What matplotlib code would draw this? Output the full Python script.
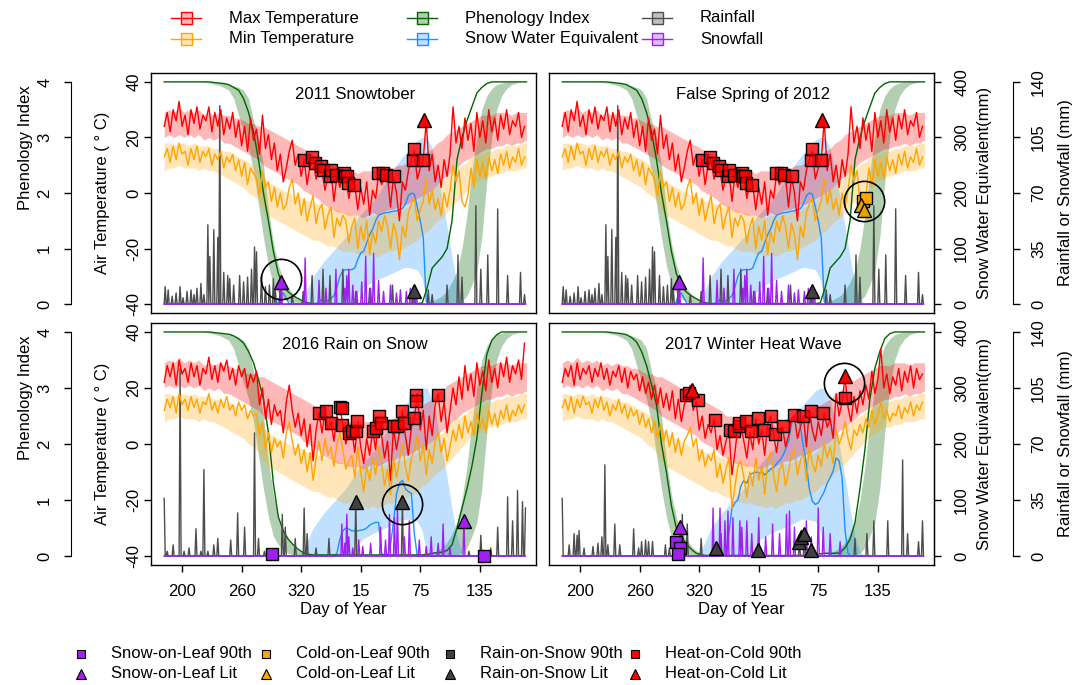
import numpy as np
import matplotlib
matplotlib.use("Agg")
import matplotlib.pyplot as plt
from matplotlib.lines import Line2D
from matplotlib.patches import Rectangle

plt.rcParams['font.family'] = ['Liberation Sans', 'DejaVu Sans']
plt.rcParams['font.size'] = 12
plt.rcParams['axes.unicode_minus'] = False

# day grids: day of year counted on past Dec 31 (366 = Jan 1 of second year)
DAY1 = np.arange(182, 547)
DAY3 = np.arange(182, 547, 3)
DAY5 = np.arange(182, 548, 5)

# ---------------- climatology bands (5-day steps) ----------------
TMAX_LO = [20, 21, 20, 21, 20, 21, 20, 21, 19, 20,
           19, 20, 18, 18, 17, 16, 15, 14, 13, 12,
           10, 9, 8, 7, 6, 5, 4, 3, 1, 0,
           -1, -2, -4, -5, -6, -7, -7, -8, -8, -8,
           -9, -8, -7, -8, -7, -6, -6, -5, -4, -4,
           -3, -2, -1, 0, 1, 3, 5, 6, 8, 9,
           11, 12, 13, 14, 15, 16, 16, 17, 17, 18,
           17, 18, 18, 19]
TMAX_HI = [29, 30, 29, 31, 29, 30, 29, 30, 28, 29,
           28, 29, 28, 28, 27, 27, 26, 25, 25, 24,
           24, 23, 22, 21, 20, 19, 18, 17, 16, 15,
           14, 13, 12, 10, 10, 9, 8, 8, 8, 7,
           8, 8, 8, 9, 8, 9, 9, 10, 10, 11,
           12, 13, 14, 15, 16, 18, 19, 21, 22, 23,
           24, 25, 26, 27, 28, 28, 28, 29, 29, 29,
           28, 29, 29, 29]
TMIN_LO = [8, 9, 9, 10, 9, 9, 9, 8, 9, 8,
           8, 7, 6, 5, 4, 3, 2, 0, -1, -3,
           -6, -8, -9, -10, -11, -12, -13, -14, -15, -16,
           -17, -17, -18, -19, -19, -20, -21, -21, -21, -22,
           -22, -23, -22, -23, -22, -21, -21, -20, -20, -19,
           -18, -17, -15, -14, -12, -10, -9, -7, -5, -3,
           -1, 1, 3, 4, 5, 6, 6, 7, 7, 8,
           8, 8, 9, 9]
TMIN_HI = [18, 18, 17, 18, 18, 17, 18, 17, 17, 17,
           16, 16, 15, 15, 14, 13, 12, 11, 10, 8,
           6, 4, 3, 2, 1, 0, -1, -1, -2, -3,
           -3, -4, -5, -5, -6, -6, -7, -7, -8, -8,
           -8, -9, -8, -8, -8, -7, -7, -6, -6, -5,
           -4, -3, -1, 0, 1, 3, 4, 6, 8, 9,
           10, 11, 13, 14, 14, 15, 15, 16, 16, 17,
           17, 17, 18, 18]
PHENO_HI = [4.0, 4.0, 4.0, 4.0, 4.0, 4.0, 4.0, 4.0, 4.0, 4.0,
            3.99, 3.98, 3.97, 3.95, 3.93, 3.9, 3.85, 3.7, 3.3, 3.0,
            2.5, 1.7, 1.1, 0.7, 0.45, 0.3, 0.18, 0.1, 0.05, 0.02,
            0, 0, 0, 0, 0, 0, 0, 0, 0, 0,
            0, 0, 0, 0, 0, 0, 0, 0, 0, 0,
            0, 0, 0, 0.02, 0.05, 0.1, 0.15, 0.25, 0.4, 0.6,
            1.0, 1.6, 2.4, 3.0, 3.5, 3.75, 3.88, 3.95, 3.98, 4.0,
            4.0, 4.0, 4.0, 4.0]
PHENO_LO = [4.0, 4.0, 4.0, 4.0, 4.0, 4.0, 4.0, 4.0, 3.99, 3.98,
            3.96, 3.94, 3.9, 3.85, 3.7, 3.4, 3.1, 2.8, 2.4, 1.8,
            1.2, 0.7, 0.35, 0.2, 0.1, 0.05, 0.02, 0, 0, 0,
            0, 0, 0, 0, 0, 0, 0, 0, 0, 0,
            0, 0, 0, 0, 0, 0, 0, 0, 0, 0,
            0, 0, 0, 0, 0, 0, 0, 0, 0, 0.02,
            0.05, 0.15, 0.35, 0.6, 1.2, 2.2, 3.0, 3.5, 3.75, 3.88,
            3.95, 3.98, 4.0, 4.0]
SWE_HI = [0, 0, 0, 0, 0, 0, 0, 0, 0, 0,
          0, 0, 0, 0, 0, 0, 0, 0, 0, 0,
          0, 0, 0, 0, 0, 0, 0, 0, 10, 30,
          50, 62, 75, 85, 95, 105, 115, 125, 140, 155,
          165, 175, 185, 195, 210, 225, 240, 252, 265, 275,
          285, 295, 300, 300, 280, 240, 190, 140, 85, 35,
          8, 0, 0, 0, 0, 0, 0, 0, 0, 0,
          0, 0, 0, 0]
SWE_LO = [0, 0, 0, 0, 0, 0, 0, 0, 0, 0,
          0, 0, 0, 0, 0, 0, 0, 0, 0, 0,
          0, 0, 0, 0, 0, 0, 0, 0, 0, 0,
          0, 0, 0, 0, 0, 0, 0, 0, 0, 20,
          30, 35, 40, 45, 48, 52, 56, 60, 65, 66,
          64, 62, 45, 0, 0, 0, 0, 0, 0, 0,
          0, 0, 0, 0, 0, 0, 0, 0, 0, 0,
          0, 0, 0, 0]

# ---------------- 2011-2012 season (3-day steps for temp / SWE, 5-day for phenology) ----------------
TMAX_2012 = [24, 29, 22, 30, 26, 33, 24, 28, 21, 30,
             25, 31, 23, 28, 26, 31, 22, 29, 24, 30,
             21, 27, 23, 29, 20, 26, 17, 24, 15, 27,
             19, 23, 14, 28, 16, 21, 12, 18, 8, 14,
             4, 9, 15, 19, 10, 14, 6, 12, 3, 10,
             12, 5, 9, 8, 1, 6, 8, -3, 6, 2,
             7, 6, -2, 4, 3, -6, 2, -4, 4, -8,
             1, -2, 7, 3, 7, 6, -5, 6, 0, -10,
             4, 1, 8, 12, 15, 5, 9, 12, 26, 8,
             14, 4, 10, 2, 12, 6, 14, 31, 18, 24,
             16, 27, 19, 25, 15, 29, 20, 26, 18, 30,
             22, 27, 19, 28, 23, 30, 21, 26, 24, 29,
             20, 24]
TMIN_2012 = [13, 16, 11, 17, 12, 18, 14, 15, 10, 16,
             12, 17, 11, 15, 13, 16, 10, 14, 12, 15,
             9, 13, 11, 14, 8, 12, 6, 11, 3, 9,
             7, 5, -1, 8, 2, 4, -3, 2, -5, 0,
             -6, -4, 2, 5, -4, 0, -8, -2, -10, -5,
             -1, -11, -6, -4, -13, -8, -5, -16, -9, -12,
             -8, -10, -18, -12, -9, -20, -12, -17, -10, -22,
             -14, -18, -10, -14, -8, -12, -20, -11, -15, -24,
             -12, -16, -7, -4, -2, -10, -6, -3, 5, -4,
             1, -6, -2, -8, 0, -5, 1, 10, 4, 8,
             -3, -5, -1, 9, 2, 12, 6, 11, 5, 13,
             8, 12, 7, 14, 10, 15, 9, 13, 11, 16,
             10, 13]
PHENO_2012 = [4.0, 4.0, 4.0, 4.0, 4.0, 4.0, 4.0, 4.0, 4.0, 4.0,
              3.99, 3.98, 3.97, 3.95, 3.9, 3.85, 3.7, 3.45, 3.1, 2.6,
              2.0, 1.5, 0.95, 0.55, 0.32, 0.22, 0.15, 0.1, 0.05, 0.02,
              0.01, 0.01, 0.01, 0.01, 0.01, 0.01, 0.01, 0.01, 0.01, 0.01,
              0.01, 0.01, 0.01, 0.01, 0.01, 0.01, 0.01, 0.01, 0.01, 0.01,
              0.01, 0.01, 0.02, 0.3, 0.65, 0.75, 0.85, 1.0, 1.5, 2.6,
              3.0, 3.3, 3.55, 3.8, 3.9, 3.97, 4.0, 4.0, 4.0, 4.0,
              4.0, 4.0, 4.0, 4.0]
SWE_2012 = [0, 0, 0, 0, 0, 0, 0, 0, 0, 0,
            0, 0, 0, 0, 0, 0, 0, 0, 0, 0,
            0, 0, 0, 0, 0, 0, 0, 0, 0, 0,
            0, 0, 0, 0, 0, 0, 0, 0, 0, 15,
            20, 10, 0, 0, 0, 0, 0, 0, 0, 0,
            0, 0, 5, 8, 4, 6, 10, 15, 30, 50,
            60, 62, 62, 62, 65, 80, 92, 95, 110, 125,
            135, 150, 160, 162, 164, 165, 166, 167, 168, 170,
            172, 180, 195, 200, 198, 175, 150, 120, 5, 0,
            0, 0, 0, 0, 0, 0, 0, 0, 0, 0,
            0, 0, 0, 0, 0, 0, 0, 0, 0, 0,
            0, 0, 0, 0, 0, 0, 0, 0, 0, 0,
            0, 0]
RAIN_2012_DAY = [183, 186, 190, 194, 198, 201, 205, 209, 212, 215,
                 219, 222, 226, 228, 232, 236, 238, 242, 246, 248,
                 252, 258, 262, 266, 270, 273, 275, 280, 284, 288,
                 292, 294, 299, 311, 322, 331, 342, 349, 362, 375,
                 389, 412, 433, 448, 452, 467, 478, 482, 496, 501,
                 508, 518, 528, 541, 545]
RAIN_2012_MM = [11, 9, 5, 7, 11, 4, 8, 9, 6, 10,
                13, 6, 50, 30, 47, 42, 125, 20, 18, 16,
                12, 18, 14, 17, 22, 36, 33, 18, 11, 12,
                16, 9, 14, 6, 8, 18, 22, 18, 22, 8,
                10, 12, 8, 9, 6, 12, 31, 17, 62, 22,
                31, 60, 18, 20, 6]
SNOW_2012_DAY = [300, 324, 338, 345, 355, 364, 366, 368, 372, 376,
                 381, 385, 390, 393, 398, 403, 410, 416, 420, 426,
                 430, 434, 436]
SNOW_2012_MM = [14, 29, 15, 10, 22, 10, 18, 22, 12, 8,
                14, 30, 10, 32, 15, 8, 12, 7, 9, 8,
                10, 6, 8]

# ---------------- 2015-2016 season ----------------
TMAX_2016 = [22, 28, 24, 29, 21, 30, 25, 27, 22, 29,
             24, 28, 21, 27, 25, 31, 23, 28, 22, 29,
             26, 30, 23, 27, 21, 28, 24, 27, 20, 25,
             22, 26, 14, 20, 9, 16, 7, 14, 10, 12,
             4, 15, 21, 12, 6, 11, 3, 9, -1, 7,
             -6, 5, 11, 4, 12, 5, 8, 1, 10, 13,
             7, 0, 4, 5, -3, 8, -1, -7, 2, -4,
             5, -2, 10, 3, -5, 1, -13, 6, -2, 4,
             12, 3, -4, 6, 9, 18, 5, 12, -2, 10,
             3, 14, 18, 8, 15, 4, 12, 20, 14, 24,
             16, 28, 19, 25, 17, 29, 21, 26, 19, 30,
             22, 27, 20, 29, 24, 31, 22, 28, 25, 30,
             23, 36]
TMIN_2016 = [12, 16, 13, 17, 11, 18, 14, 16, 12, 17,
             13, 16, 11, 15, 14, 18, 12, 15, 11, 16,
             13, 17, 12, 14, 10, 15, 12, 14, 9, 12,
             10, 11, 3, 8, -2, 4, -3, 2, -1, 1,
             -5, 4, 8, 1, -4, 0, -7, -2, -10, -3,
             -13, -5, 1, -6, 2, -4, -1, -8, 0, 4,
             -2, -9, -6, -4, -12, -1, -10, -17, -8, -13,
             -5, -11, -1, -7, -15, -9, -18, -5, -12, -6,
             0, -8, -13, -5, -2, 3, -6, 0, -11, -2,
             -7, 1, 4, -3, 2, -6, -1, 5, 1, 7,
             2, 10, 4, 8, 3, 11, 6, 9, 4, 12,
             7, 11, 6, 12, 9, 14, 8, 12, 10, 14,
             11, 14]
PHENO_2016 = [4.0, 4.0, 4.0, 4.0, 4.0, 4.0, 4.0, 4.0, 4.0, 4.0,
              3.99, 3.98, 3.97, 3.96, 3.93, 3.88, 3.8, 3.65, 3.45, 3.15,
              2.8, 2.2, 1.3, 0.7, 0.45, 0.3, 0.2, 0.12, 0.06, 0.03,
              0.02, 0.02, 0.02, 0.02, 0.02, 0.02, 0.02, 0.02, 0.02, 0.02,
              0.02, 0.02, 0.02, 0.02, 0.02, 0.02, 0.02, 0.02, 0.02, 0.02,
              0.02, 0.02, 0.02, 0.03, 0.05, 0.06, 0.07, 0.1, 0.2, 0.5,
              0.85, 1.2, 1.6, 2.1, 2.9, 3.6, 3.85, 3.95, 4.0, 4.0,
              4.0, 4.0, 4.0, 4.0]
SWE_2016 = [0, 0, 0, 0, 0, 0, 0, 0, 0, 0,
            0, 0, 0, 0, 0, 0, 0, 0, 0, 0,
            0, 0, 0, 0, 0, 0, 0, 0, 0, 0,
            0, 0, 0, 0, 0, 0, 0, 0, 0, 0,
            0, 0, 0, 0, 0, 0, 0, 0, 0, 0,
            0, 0, 0, 0, 0, 0, 0, 0, 5, 30,
            45, 50, 48, 45, 45, 45, 46, 47, 50, 55,
            58, 60, 60, 5, 0, 0, 20, 60, 110, 130,
            135, 120, 115, 112, 40, 0, 0, 0, 0, 0,
            0, 0, 0, 0, 0, 0, 0, 0, 0, 0,
            0, 0, 0, 0, 0, 0, 0, 0, 0, 0,
            0, 0, 0, 0, 0, 0, 0, 0, 0, 0,
            0, 0]
RAIN_2016_DAY = [182, 185, 191, 198, 202, 207, 214, 219, 222, 226,
                 232, 236, 249, 256, 263, 273, 277, 283, 301, 304,
                 314, 323, 326, 335, 348, 375, 422, 489, 501, 511,
                 518, 528, 533, 538, 543, 546]
RAIN_2016_MM = [36, 3, 7, 117, 3, 5, 17, 3, 54, 3,
                7, 11, 10, 27, 18, 77, 11, 3, 26, 18,
                11, 30, 14, 5, 11, 34, 34, 3, 13, 5,
                18, 37, 22, 41, 34, 30]
SNOW_2016_DAY = [361, 364, 366, 368, 372, 378, 382, 390, 400, 405,
                 409, 414, 417, 424, 429, 439, 446, 451, 458, 463,
                 470, 484]
SNOW_2016_MM = [20, 8, 26, 12, 5, 10, 6, 8, 18, 10,
                26, 24, 30, 12, 22, 10, 6, 12, 8, 20,
                5, 22]

# ---------------- 2016-2017 season ----------------
TMAX_2017 = [22, 27, 24, 28, 21, 29, 23, 27, 25, 28,
             22, 27, 24, 29, 23, 27, 21, 26, 24, 28,
             22, 27, 20, 26, 23, 25, 19, 24, 18, 22,
             16, 21, 14, 20, 13, 18, 12, 19, 9, 16,
             8, 14, 17, 21, 12, 15, 5, 10, 2, 7,
             4, 9, -2, 3, -4, 1, 5, -11, -3, 6,
             7, 1, -5, 4, -2, 9, 0, 5, -4, 7,
             10, 3, -3, 5, 6, -1, 3, 9, 10, 2,
             6, 10, -1, 12, 5, 1, 8, 3, 11, 6,
             9, 2, 18, 10, 15, 24, 13, 8, 17, 11,
             19, 14, 21, 16, 26, 18, 23, 34, 20, 25,
             18, 24, 21, 27, 19, 26, 22, 28, 20, 27,
             23, 25]
TMIN_2017 = [13, 16, 12, 17, 11, 16, 13, 17, 14, 15,
             11, 16, 13, 17, 12, 15, 10, 14, 12, 16,
             11, 14, 9, 13, 10, 12, 7, 11, 6, 9,
             4, 8, 2, 7, 1, 5, -1, 4, -3, 2,
             -4, 1, 3, 6, -1, 2, -6, -2, -8, -4,
             -6, -2, -12, -7, -14, -9, -5, -23, -15, -8,
             -6, -12, -19, -10, -15, -5, -13, -8, -18, -6,
             -3, -11, -17, -9, -7, -15, -10, -4, -2, -11,
             -6, -3, -13, -1, -7, -10, -4, -8, 0, -5,
             -1, -7, 5, 0, 3, 8, 2, -2, 5, 3,
             7, 4, 9, 6, 12, 7, 10, 15, 9, 12,
             8, 11, 10, 14, 9, 13, 11, 15, 10, 14,
             12, 15]
PHENO_2017 = [4.0, 4.0, 4.0, 4.0, 4.0, 4.0, 4.0, 4.0, 4.0, 4.0,
              3.99, 3.98, 3.97, 3.95, 3.9, 3.82, 3.65, 3.4, 3.05, 2.7,
              2.0, 1.5, 0.9, 0.5, 0.35, 0.22, 0.12, 0.05, 0.02, 0.01,
              0.01, 0.01, 0.01, 0.01, 0.01, 0.01, 0.01, 0.01, 0.01, 0.01,
              0.01, 0.01, 0.01, 0.01, 0.01, 0.01, 0.01, 0.01, 0.01, 0.01,
              0.02, 0.03, 0.04, 0.05, 0.05, 0.05, 0.06, 0.15, 0.3, 0.6,
              1.2, 1.9, 2.8, 3.35, 3.65, 3.88, 3.97, 4.0, 4.0, 4.0,
              4.0, 4.0, 4.0, 4.0]
SWE_2017 = [0, 0, 0, 0, 0, 0, 0, 0, 0, 0,
            0, 0, 0, 0, 0, 0, 0, 0, 0, 0,
            0, 0, 0, 0, 0, 0, 0, 0, 0, 0,
            0, 0, 0, 0, 0, 0, 0, 0, 0, 0,
            0, 0, 0, 0, 0, 0, 0, 0, 0, 0,
            0, 0, 0, 0, 0, 0, 40, 85, 95, 100,
            125, 135, 130, 145, 148, 150, 148, 150, 145, 150,
            155, 158, 165, 170, 178, 190, 205, 235, 250, 258,
            230, 195, 164, 120, 98, 92, 95, 105, 115, 130,
            140, 152, 175, 170, 140, 45, 5, 0, 0, 0,
            0, 0, 0, 0, 0, 0, 0, 0, 0, 0,
            0, 0, 0, 0, 0, 0, 0, 0, 0, 0,
            0, 0]
RAIN_2017_DAY = [182, 189, 194, 197, 199, 204, 213, 218, 222, 225,
                 228, 235, 240, 254, 259, 262, 266, 269, 273, 286,
                 290, 295, 303, 308, 322, 337, 342, 379, 421, 426,
                 433, 477, 489, 496, 510, 525, 530, 541, 545]
RAIN_2017_MM = [36, 7, 14, 13, 16, 5, 6, 8, 12, 57,
                7, 20, 7, 17, 5, 9, 10, 9, 9, 7,
                5, 11, 26, 20, 11, 5, 14, 5, 10, 15,
                5, 11, 14, 22, 22, 60, 14, 9, 22]
SNOW_2017_DAY = [298, 301, 334, 341, 346, 349, 354, 361, 363, 368,
                 373, 380, 387, 394, 401, 408, 411, 416, 428, 433,
                 440, 445, 452, 462]
SNOW_2017_MM = [9, 18, 30, 30, 22, 28, 24, 22, 18, 22,
                14, 24, 12, 20, 14, 26, 28, 18, 22, 12,
                30, 18, 14, 9]

# ---------------- extreme-event markers ----------------
HOC90_2012_DAY = [323, 331, 334, 340, 342, 349, 350, 355, 363, 364,
                  366, 367, 373, 397, 402, 405, 414, 433, 434, 443]
HOC90_2012_T = [11.9, 12.9, 10.7, 9.6, 8.4, 6.0, 8.4, 6.6, 7.2, 6.0,
                6.0, 3.6, 3.0, 7.2, 7.2, 6.6, 6.0, 11.9, 15.8, 11.9]
HOCLIT_2012_DAY, HOCLIT_2012_T = [444], [26.3]
SOLLIT_2012_DAY, SOLLIT_2012_MM = [300], [14]
ROSLIT_2012_DAY, ROSLIT_2012_MM = [434], [8]
COL90_2012_DAY, COL90_2012_T = [485, 488], [-3.0, -1.8]
COLLIT_2012_DAY, COLLIT_2012_T = [483, 486], [-4.2, -6.0]

HOC90_2016_DAY = [338, 345, 350, 359, 361, 361, 368, 371, 375, 376,
                  392, 395, 398, 400, 414, 417, 422, 424, 434, 436,
                  436, 458]
HOC90_2016_T = [11.1, 11.7, 7.5, 13.1, 6.9, 12.9, 4.0, 4.6, 4.6, 8.1,
                4.6, 5.7, 9.9, 7.5, 6.3, 6.3, 11.7, 7.5, 9.3, 17.6,
                15.2, 17.6]
ROSLIT_2016_DAY, ROSLIT_2016_MM = [375, 422], [34, 34]
SOLLIT_2016_DAY, SOLLIT_2016_MM = [484], [22]
SOL90_2016_DAY, SOL90_2016_MM = [291, 504], [1, 0]

HOC90_2017_DAY = [307, 310, 319, 336, 351, 355, 360, 360, 367, 372,
                  379, 385, 392, 396, 404, 416, 425, 433, 445, 467]
HOC90_2017_T = [17.6, 18.2, 15.8, 8.7, 5.1, 4.5, 6.3, 7.5, 8.1, 4.5,
                9.3, 5.1, 9.9, 3.4, 6.3, 10.5, 9.9, 11.7, 11.1, 16.4]
HOCLIT_2017_DAY, HOCLIT_2017_T = [313, 467], [19.4, 24.1]
SOL90_2017_DAY, SOL90_2017_MM = [297, 301, 299], [9, 5, 1]
SOLLIT_2017_DAY, SOLLIT_2017_MM = [301], [18]
ROSLIT_2017_DAY = [337, 379, 421, 423, 426, 433]
ROSLIT_2017_MM = [5, 4, 9, 12, 14, 4]

XTICKS = [200, 260, 320, 380, 440, 500]
XTICK_LABELS = ['200', '260', '320', '15', '75', '135']

# ---------------- colours ----------------
C_TMAX, C_TMIN = '#FF0000', '#FFA500'
C_PHENO, C_SWE = '#006400', '#1E90FF'
C_RAIN, C_SNOW = '#4D4D4D', '#A020F0'
F_TMAX = (1.0, 0.0, 0.0, 0.28)
F_TMIN = (1.0, 0.647, 0.0, 0.28)
F_PHENO = (0.0, 0.39, 0.0, 0.30)
F_SWE = (0.118, 0.565, 1.0, 0.28)
F_RAIN = (0.3, 0.3, 0.3, 0.35)
F_SNOW = (0.627, 0.125, 0.941, 0.3)

W, H = 1086, 685
fig = plt.figure(figsize=(W / 100, H / 100), dpi=100)


def rect(l, t, r, b):
    return [l / W, 1 - b / H, (r - l) / W, (b - t) / H]


def daily(days, mm):
    out = np.zeros(len(DAY1))
    out[np.array(days) - 182] = mm
    return out


SEASONS = {
    '2012': dict(tmax=TMAX_2012, tmin=TMIN_2012, pheno=PHENO_2012, swe=SWE_2012,
                 rain=(RAIN_2012_DAY, RAIN_2012_MM), snow=(SNOW_2012_DAY, SNOW_2012_MM)),
    '2016': dict(tmax=TMAX_2016, tmin=TMIN_2016, pheno=PHENO_2016, swe=SWE_2016,
                 rain=(RAIN_2016_DAY, RAIN_2016_MM), snow=(SNOW_2016_DAY, SNOW_2016_MM)),
    '2017': dict(tmax=TMAX_2017, tmin=TMIN_2017, pheno=PHENO_2017, swe=SWE_2017,
                 rain=(RAIN_2017_DAY, RAIN_2017_MM), snow=(SNOW_2017_DAY, SNOW_2017_MM)),
}

STYLE = {
    'hoc90': dict(marker='s', ms=8.5, mfc=(1, 0, 0, 0.8), on='t'),
    'hoclit': dict(marker='^', ms=10, mfc='#FF0000', on='t'),
    'col90': dict(marker='s', ms=8.5, mfc='#FFA500', on='t'),
    'collit': dict(marker='^', ms=10, mfc='#E8A200', on='t'),
    'sol90': dict(marker='s', ms=8.5, mfc='#A020F0', on='r'),
    'sollit': dict(marker='^', ms=10, mfc='#A020F0', on='r'),
    'roslit': dict(marker='^', ms=10, mfc='#404040', on='r'),
}

PANELS = [
    dict(box=(151, 73, 536, 313), title='2011 Snowtober', season='2012', side='left', bottom=False,
         marks=[('hoc90', HOC90_2012_DAY, HOC90_2012_T), ('hoclit', HOCLIT_2012_DAY, HOCLIT_2012_T),
                ('sollit', SOLLIT_2012_DAY, SOLLIT_2012_MM), ('roslit', ROSLIT_2012_DAY, ROSLIT_2012_MM)],
         circle=(300, -31)),
    dict(box=(549, 73, 934, 313), title='False Spring of 2012', season='2012', side='right', bottom=False,
         marks=[('hoc90', HOC90_2012_DAY, HOC90_2012_T), ('hoclit', HOCLIT_2012_DAY, HOCLIT_2012_T),
                ('sollit', SOLLIT_2012_DAY, SOLLIT_2012_MM), ('roslit', ROSLIT_2012_DAY, ROSLIT_2012_MM),
                ('col90', COL90_2012_DAY, COL90_2012_T), ('collit', COLLIT_2012_DAY, COLLIT_2012_T)],
         circle=(486, -3)),
    dict(box=(151, 323, 536, 565), title='2016 Rain on Snow', season='2016', side='left', bottom=True,
         marks=[('hoc90', HOC90_2016_DAY, HOC90_2016_T), ('roslit', ROSLIT_2016_DAY, ROSLIT_2016_MM),
                ('sollit', SOLLIT_2016_DAY, SOLLIT_2016_MM), ('sol90', SOL90_2016_DAY, SOL90_2016_MM)],
         circle=(422, -21.5)),
    dict(box=(549, 323, 934, 565), title='2017 Winter Heat Wave', season='2017', side='right', bottom=True,
         marks=[('hoc90', HOC90_2017_DAY, HOC90_2017_T), ('hoclit', HOCLIT_2017_DAY, HOCLIT_2017_T),
                ('sol90', SOL90_2017_DAY, SOL90_2017_MM), ('sollit', SOLLIT_2017_DAY, SOLLIT_2017_MM),
                ('roslit', ROSLIT_2017_DAY, ROSLIT_2017_MM)],
         circle=(466, 21.8)),
]


def rot_labels(axis_obj):
    plt.setp(axis_obj.get_yticklabels(), rotation=90, va='center')


for p in PANELS:
    s = SEASONS[p['season']]
    ax = fig.add_axes(rect(*p['box']))
    ax_ph = ax.twinx()
    ax_sw = ax.twinx()
    ax_rn = ax.twinx()
    ax_ph.set_ylim(-0.16, 4.16)
    ax_sw.set_ylim(-16, 416)
    ax_rn.set_ylim(-5.6, 145.6)
    tp, ts, tr = ax_ph.transData, ax_sw.transData, ax_rn.transData

    # climatology envelopes
    ax.fill_between(DAY5, PHENO_LO, PHENO_HI, color=F_PHENO, lw=0, transform=tp, zorder=1)
    ax.fill_between(DAY5, SWE_LO, SWE_HI, color=F_SWE, lw=0, transform=ts, zorder=1)
    ax.fill_between(DAY5, TMAX_LO, TMAX_HI, color=F_TMAX, lw=0, zorder=1)
    ax.fill_between(DAY5, TMIN_LO, TMIN_HI, color=F_TMIN, lw=0, zorder=1)

    # snowpack and phenology
    ax.plot(DAY3, s['swe'], color=C_SWE, lw=1, transform=ts, zorder=2)
    ax.plot(DAY5, s['pheno'], color=C_PHENO, lw=1, transform=tp, zorder=2)
    # precipitation (snowfall on top, so the zero baseline reads purple)
    ax.plot(DAY1, daily(*s['rain']), color=C_RAIN, lw=1, transform=tr, zorder=3)
    ax.plot(DAY1, daily(*s['snow']), color=C_SNOW, lw=1, transform=tr, zorder=3.1)
    # temperatures
    ax.plot(DAY3, s['tmax'], color=C_TMAX, lw=1, zorder=4)
    ax.plot(DAY3, s['tmin'], color=C_TMIN, lw=1, zorder=4)

    for kind, d, v in p['marks']:
        st = STYLE[kind]
        trf = ax.transData if st['on'] == 't' else tr
        ax.plot(d, v, ls='none', marker=st['marker'], ms=st['ms'], mfc=st['mfc'],
                mec='black', mew=1, transform=trf, zorder=6)
    cx, cy = p['circle']
    ax.plot([cx], [cy], ls='none', marker='o', ms=29, mfc='none', mec='black', mew=1.2, zorder=7)

    ax.set_xlim(168.7, 556.6)
    ax.set_ylim(-43.2, 43.2)
    ax_ph.set_ylim(-0.16, 4.16)
    ax_sw.set_ylim(-16, 416)
    ax_rn.set_ylim(-5.6, 145.6)

    ax.text(0.53, 0.912, p['title'], transform=ax.transAxes, ha='center', va='center', fontsize=12)
    for sp in ax.spines.values():
        sp.set_linewidth(1)

    if p['bottom']:
        ax.set_xticks(XTICKS)
        ax.set_xticklabels(XTICK_LABELS)
        ax.tick_params(axis='x', direction='out', length=5, width=1, pad=8.5)
        ax.set_xlabel('Day of Year', labelpad=2)
    else:
        ax.tick_params(axis='x', bottom=False, labelbottom=False)

    if p['side'] == 'left':
        ax.set_yticks([-40, -20, 0, 20, 40])
        ax.tick_params(axis='y', direction='out', length=5, width=1, pad=2)
        rot_labels(ax)
        ax.set_ylabel('Air Temperature ( ° C)')
        ax.yaxis.set_label_coords(-0.106, 0.5)

        ax_ph.yaxis.tick_left()
        ax_ph.yaxis.set_label_position('left')
        for k in ['right', 'top', 'bottom']:
            ax_ph.spines[k].set_visible(False)
        ax_ph.spines['left'].set_position(('outward', 57.6))
        ax_ph.spines['left'].set_bounds(0, 4)
        ax_ph.set_yticks([0, 1, 2, 3, 4])
        ax_ph.tick_params(axis='y', direction='out', length=5, width=1, pad=8.5)
        rot_labels(ax_ph)
        ax_ph.set_ylabel('Phenology Index')
        ax_ph.yaxis.set_label_coords(-0.306, 0.69)
        ax_sw.set_axis_off()
        ax_rn.set_axis_off()
    else:
        ax.tick_params(axis='y', left=False, labelleft=False)
        ax_ph.set_axis_off()
        for k in ['left', 'top', 'bottom']:
            ax_sw.spines[k].set_visible(False)
            ax_rn.spines[k].set_visible(False)
        ax_sw.set_yticks([0, 100, 200, 300, 400])
        ax_sw.tick_params(axis='y', direction='out', length=5, width=1, pad=9.5)
        rot_labels(ax_sw)
        ax_sw.set_ylabel('Snow Water Equivalent(mm)')
        ax_sw.yaxis.set_label_coords(1.112, 0.5)

        ax_rn.spines['right'].set_position(('outward', 56.9))
        ax_rn.spines['right'].set_bounds(0, 140)
        ax_rn.set_yticks([0, 35, 70, 105, 140])
        ax_rn.tick_params(axis='y', direction='out', length=5, width=1, pad=8)
        rot_labels(ax_rn)
        ax_rn.set_ylabel('Rainfall or Snowfall (mm)')
        ax_rn.yaxis.set_label_coords(1.322, 0.5)


# ---------------- legends (figure level) ----------------
def fx(px):
    return px / W


def fy(py):
    return 1 - py / H


TOP_LEGEND = [
    ('Max Temperature', C_TMAX, F_TMAX), ('Min Temperature', C_TMIN, F_TMIN),
    ('Phenology Index', C_PHENO, F_PHENO), ('Snow Water Equivalent', C_SWE, F_SWE),
    ('Rainfall', C_RAIN, F_RAIN), ('Snowfall', C_SNOW, F_SNOW),
]
top_cols = [186, 422, 657]
top_rows = [18, 39]
for i, (lab, c, f) in enumerate(TOP_LEGEND):
    cx, cy = top_cols[i // 2], top_rows[i % 2]
    fig.add_artist(Rectangle((fx(cx - 5.5), fy(cy + 5.5)), 11 / W, 11 / H, facecolor=f,
                             edgecolor=c, lw=1, transform=fig.transFigure))
    fig.add_artist(Line2D([fx(cx - 15), fx(cx + 15)], [fy(cy), fy(cy)], color=c, lw=1,
                          transform=fig.transFigure))
    fig.text(fx(cx + 43), fy(cy), lab, ha='left', va='center', fontsize=12)

BOTTOM_LEGEND = [
    ('Snow-on-Leaf 90th', 's', '#A020F0'), ('Snow-on-Leaf Lit', '^', '#A020F0'),
    ('Cold-on-Leaf 90th', 's', '#FFA500'), ('Cold-on-Leaf Lit', '^', '#FFA500'),
    ('Rain-on-Snow 90th', 's', '#404040'), ('Rain-on-Snow Lit', '^', '#404040'),
    ('Heat-on-Cold 90th', 's', '#FF0000'), ('Heat-on-Cold Lit', '^', '#FF0000'),
]
bot_cols = [81, 266, 450, 635]
bot_rows = [654, 674]
for i, (lab, m, c) in enumerate(BOTTOM_LEGEND):
    cx, cy = bot_cols[i // 2], bot_rows[i % 2]
    fig.add_artist(Line2D([fx(cx)], [fy(cy)], ls='none', marker=m, ms=5.5 if m == 's' else 6.5,
                          mfc=c, mec='black', mew=0.8, transform=fig.transFigure))
    fig.text(fx(cx + 30), fy(cy), lab, ha='left', va='center', fontsize=12)

fig.savefig('out.png', dpi=100)
